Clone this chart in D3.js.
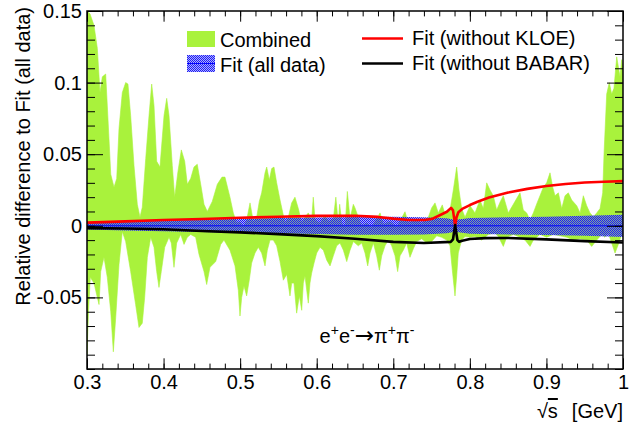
<!DOCTYPE html>
<html>
<head>
<meta charset="utf-8">
<script src="https://cdn.jsdelivr.net/npm/d3@7"></script>
<style>
  body { margin: 0; background: #fff; }
  svg { display: block; font-family: "Liberation Sans", Arial, Helvetica, sans-serif; }
</style>
</head>
<body>
<div id="viz"></div>
<script>
// tick values and labels
var xTicks = [0.3, 0.4, 0.5, 0.6, 0.7, 0.8, 0.9, 1.0],
    xTickLabels = ["0.3", "0.4", "0.5", "0.6", "0.7", "0.8", "0.9", "1"],
    yTicks = [-0.05, 0, 0.05, 0.1, 0.15],
    yTickLabels = ["-0.05", "0", "0.05", "0.1", "0.15"];

var legendLabels = ["Combined", "Fit (all data)", "Fit (without KLOE)", "Fit (without BABAR)"];

// Combined band - upper edge
var upperX = [0.300, 0.3039, 0.3091, 0.3135, 0.3170, 0.3200, 0.3244, 0.3287, 0.3310, 0.3353,
  0.3388, 0.3418, 0.3461, 0.3505, 0.3535, 0.3570, 0.3614, 0.3657, 0.3692, 0.3722,
  0.3767, 0.3810, 0.3845, 0.3875, 0.3910, 0.3953, 0.4006, 0.4041, 0.4071, 0.4114,
  0.4145, 0.4188, 0.4232, 0.4276, 0.4310, 0.4354, 0.4397, 0.4440, 0.4485, 0.4528,
  0.4571, 0.4636, 0.4702, 0.4763, 0.4802, 0.4867, 0.4911, 0.4955, 0.4998, 0.5041,
  0.5085, 0.5129, 0.5172, 0.5216, 0.5250, 0.5281, 0.5325, 0.5347, 0.5381, 0.5412,
  0.5442, 0.5477, 0.5521, 0.5586, 0.5629, 0.5673, 0.5716, 0.5760, 0.5804, 0.5847,
  0.5890, 0.5934, 0.5955, 0.5978, 0.6043, 0.6108, 0.6152, 0.6217, 0.6250, 0.6282,
  0.6300, 0.6327, 0.6370, 0.6400, 0.6435, 0.6478, 0.6500, 0.6543, 0.6588, 0.6653,
  0.6718, 0.6761, 0.6827, 0.6870, 0.6957, 0.7045, 0.7153, 0.7196, 0.7283, 0.7371,
  0.7458, 0.7501, 0.7545, 0.7588, 0.7640, 0.7675, 0.7741, 0.7784, 0.7828, 0.7858,
  0.7893, 0.7937, 0.8002, 0.8067, 0.8132, 0.8176, 0.8220, 0.8263, 0.8306, 0.8350,
  0.8394, 0.8437, 0.8502, 0.8568, 0.8611, 0.8655, 0.8698, 0.8742, 0.8786, 0.8829,
  0.8873, 0.8916, 0.8960, 0.9003, 0.9047, 0.9082, 0.9112, 0.9156, 0.9200, 0.9243,
  0.9286, 0.9330, 0.9396, 0.9439, 0.9482, 0.9526, 0.9569, 0.9613, 0.9657, 0.9700,
  0.9735, 0.9752, 0.9787, 0.9821, 0.9852, 0.9882, 0.9918, 0.9961, 0.9983, 1.0000];
var upperY = [0.150, 0.148, 0.140, 0.124, 0.093, 0.104, 0.106, 0.061, 0.036, 0.027,
  0.033, 0.068, 0.093, 0.100, 0.099, 0.077, 0.042, 0.015, 0.006, 0.013,
  0.047, 0.077, 0.099, 0.084, 0.045, 0.041, 0.077, 0.089, 0.077, 0.042,
  0.020, 0.038, 0.053, 0.045, 0.029, 0.033, 0.041, 0.043, 0.029, 0.015,
  0.010, 0.017, 0.029, 0.034, 0.034, 0.020, 0.009, 0.002, 0.003, -0.001,
  0.004, 0.016, 0.003, 0.006, 0.017, 0.023, 0.037, 0.041, 0.032, 0.040,
  0.041, 0.030, 0.018, 0.002, 0.006, 0.016, 0.020, 0.012, 0.002, 0.006,
  0.009, 0.004, 0.020, 0.004, 0.002, 0.007, 0.003, 0.005, 0.020, 0.001,
  0.015, 0.002, -0.001, 0.024, 0.005, 0.015, 0.0125, 0.006, 0.000, 0.002,
  -0.001, 0.003, 0.009, 0.001, 0.003, -0.001, 0.0098, 0.002, 0.004, 0.002,
  0.006, 0.0125, 0.016, 0.009, 0.0146, 0.008, 0.011, 0.025, 0.041, 0.025,
  0.012, 0.006, 0.014, 0.009, 0.018, 0.012, 0.030, 0.025, 0.021, 0.011,
  0.0165, 0.021, 0.009, 0.015, 0.019, 0.023, 0.011, 0.009, 0.004, 0.009,
  0.0153, 0.021, 0.027, 0.030, 0.037, 0.027, 0.021, 0.023, 0.012, 0.021,
  0.023, 0.018, 0.014, 0.009, 0.021, 0.014, 0.009, 0.0063, 0.009, 0.012,
  0.023, 0.050, 0.092, 0.100, 0.092, 0.096, 0.118, 0.104, 0.116, 0.110];

// Combined band - lower edge
var lowerX = [0.3000, 0.3020, 0.3043, 0.3091, 0.3135, 0.3157, 0.3179, 0.3222, 0.3265, 0.3310,
  0.3344, 0.3375, 0.3418, 0.3461, 0.3505, 0.3570, 0.3635, 0.3679, 0.3722, 0.3753,
  0.3788, 0.3832, 0.3875, 0.3910, 0.3940, 0.3970, 0.4015, 0.4071, 0.4101, 0.4136,
  0.4171, 0.4224, 0.4267, 0.4310, 0.4354, 0.4419, 0.4463, 0.4528, 0.4563, 0.4606,
  0.4681, 0.4746, 0.4789, 0.4867, 0.4933, 0.4976, 0.4998, 0.5020, 0.5050, 0.5085,
  0.5119, 0.5150, 0.5194, 0.5237, 0.5281, 0.5325, 0.5355, 0.5390, 0.5433, 0.5477,
  0.5521, 0.5564, 0.5608, 0.5651, 0.5673, 0.5703, 0.5738, 0.5773, 0.5804, 0.5825,
  0.5847, 0.5890, 0.5912, 0.5934, 0.5965, 0.6000, 0.6043, 0.6087, 0.6131, 0.6174,
  0.6217, 0.6261, 0.6304, 0.6348, 0.6392, 0.6435, 0.6478, 0.6543, 0.6588, 0.6631,
  0.6666, 0.6696, 0.6740, 0.6783, 0.6818, 0.6849, 0.6892, 0.6935, 0.6979, 0.7023,
  0.7057, 0.7088, 0.7131, 0.7175, 0.7218, 0.7262, 0.7305, 0.7371, 0.7436, 0.7501,
  0.7567, 0.7632, 0.7697, 0.7741, 0.7771, 0.7806, 0.7828, 0.7849, 0.7893, 0.7937,
  0.8002, 0.8067, 0.8154, 0.8241, 0.8328, 0.8372, 0.8437, 0.8481, 0.8568, 0.8655,
  0.8720, 0.8786, 0.8829, 0.8916, 0.9003, 0.9090, 0.9177, 0.9264, 0.9351, 0.9439,
  0.9526, 0.9591, 0.9657, 0.9722, 0.9765, 0.9808, 0.9852, 0.9896, 0.9939, 0.9983,
  1.0000];
var lowerY = [-0.090, -0.060, -0.036, -0.040, -0.050, -0.055, -0.032, -0.022, -0.036, -0.060,
  -0.088, -0.064, -0.027, -0.004, -0.011, -0.032, -0.055, -0.071, -0.068, -0.050,
  -0.022, -0.008, -0.015, -0.032, -0.043, -0.032, -0.015, -0.008, -0.012, -0.029,
  -0.012, -0.006, -0.013, -0.008, -0.006, -0.008, -0.020, -0.032, -0.041, -0.029,
  -0.025, -0.013, -0.010, -0.017, -0.028, -0.045, -0.063, -0.050, -0.042, -0.049,
  -0.038, -0.026, -0.019, -0.015, -0.019, -0.028, -0.017, -0.010, -0.010, -0.014,
  -0.025, -0.038, -0.034, -0.049, -0.040, -0.040, -0.061, -0.049, -0.059, -0.040,
  -0.035, -0.054, -0.040, -0.033, -0.026, -0.019, -0.015, -0.017, -0.024, -0.028,
  -0.021, -0.014, -0.012, -0.017, -0.025, -0.017, -0.011, -0.014, -0.012, -0.019,
  -0.028, -0.019, -0.012, -0.021, -0.031, -0.021, -0.014, -0.010, -0.014, -0.021,
  -0.032, -0.021, -0.017, -0.012, -0.022, -0.016, -0.011, -0.009, -0.012, -0.011,
  -0.007, -0.008, -0.010, -0.014, -0.031, -0.049, -0.035, -0.019, -0.010, -0.0075,
  -0.008, -0.0075, -0.010, -0.006, -0.005, -0.0075, -0.0144, -0.008, -0.006, -0.008,
  -0.010, -0.0144, -0.010, -0.006, -0.008, -0.006, -0.007, -0.008, -0.010, -0.009,
  -0.010, -0.0144, -0.010, -0.006, -0.008, -0.005, -0.012, -0.019, -0.013, -0.006,
  -0.008];

// Fit (all data) error band, centred on zero
var fitX = [0.30, 0.35, 0.40, 0.45, 0.50, 0.55, 0.60, 0.65, 0.70, 0.74, 0.77, 0.78, 0.79, 0.80, 0.85, 0.90, 0.95, 1.00];
var fitErr = [0.0025, 0.0032, 0.0038, 0.0044, 0.0049, 0.0054, 0.0058, 0.0062, 0.0063, 0.0060, 0.0052, 0.0042, 0.0048, 0.0055, 0.0060, 0.0064, 0.0070, 0.0078];

// Fit (without KLOE)
var kloeX = [0.30, 0.35, 0.40, 0.45, 0.50, 0.55, 0.60, 0.65, 0.68, 0.70, 0.72, 0.74, 0.75, 0.76, 0.77,
  0.7755, 0.778, 0.7795, 0.7808, 0.7825, 0.785, 0.79, 0.80, 0.81, 0.825, 0.85, 0.875, 0.90, 0.925, 0.95, 0.975, 1.00];
var kloeY = [0.0022, 0.0031, 0.0040, 0.0048, 0.0056, 0.0063, 0.0069, 0.0070, 0.0062, 0.0050, 0.0041, 0.0040, 0.0047, 0.0072, 0.0098,
  0.0125, 0.0108, 0.0050, 0.0000, 0.0058, 0.0095, 0.0118, 0.0145, 0.0168, 0.0197, 0.0232, 0.0258, 0.0278, 0.0292, 0.0302, 0.0308, 0.0312];

// Fit (without BABAR)
var babarX = [0.30, 0.35, 0.40, 0.45, 0.50, 0.55, 0.60, 0.65, 0.70, 0.74, 0.775, 0.778, 0.7795, 0.7808,
  0.782, 0.7838, 0.786, 0.79, 0.80, 0.82, 0.85, 0.90, 0.95, 1.00];
var babarY = [-0.0016, -0.0019, -0.0024, -0.0036, -0.0046, -0.0058, -0.0072, -0.0090, -0.0112, -0.0120, -0.0112, -0.0095, -0.0040, 0.0005,
  -0.0040, -0.0100, -0.0112, -0.0104, -0.0092, -0.0086, -0.0085, -0.0095, -0.0107, -0.0117];

var margin = {top: 11, right: 17, bottom: 57, left: 87},
    width = 640 - margin.left - margin.right,
    height = 426 - margin.top - margin.bottom;

var xScale = d3.scaleLinear().domain([0.3, 1.0]).range([0, width]);
var yScale = d3.scaleLinear().domain([-0.1, 0.15]).range([height, 0]);

var svg = d3.select("#viz").append("svg")
    .attr("width", 640)
    .attr("height", 426);

var defs = svg.append("defs");
defs.append("clipPath").attr("id", "plotClip")
  .append("rect").attr("width", width).attr("height", height);

// checker hatch like ROOT fill style
var pat = defs.append("pattern")
    .attr("id", "checker")
    .attr("width", 2).attr("height", 2)
    .attr("patternUnits", "userSpaceOnUse");
pat.append("rect").attr("width", 2).attr("height", 2).attr("fill", "rgba(90,90,255,0.5)");
pat.append("rect").attr("x", 0).attr("y", 0).attr("width", 1).attr("height", 1).attr("fill", "#1e1ef5");
pat.append("rect").attr("x", 1).attr("y", 1).attr("width", 1).attr("height", 1).attr("fill", "#1e1ef5");

var chart = svg.append("g")
    .attr("transform", "translate(" + margin.left + "," + margin.top + ")");

var plot = chart.append("g").attr("clip-path", "url(#plotClip)");

// combined band: upper edge left to right, then lower edge back
var bandPts = upperX.map(function(d, i) { return [d, upperY[i]]; })
  .concat(lowerX.map(function(d, i) { return [d, lowerY[i]]; }).reverse());

var lineFunc = d3.line()
  .x(function(d) { return xScale(d[0]); })
  .y(function(d) { return yScale(d[1]); });

plot.append("path")
  .attr("d", lineFunc(bandPts) + "Z")
  .attr("fill", "#a9f23c")
  .attr("stroke", "#a9f23c")
  .attr("stroke-width", 0.6);

// fit error band
var fitArea = d3.area()
  .x(function(d, i) { return xScale(fitX[i]); })
  .y0(function(d) { return yScale(-d); })
  .y1(function(d) { return yScale(d); });

plot.append("path")
  .attr("d", fitArea(fitErr))
  .attr("fill", "url(#checker)");

plot.append("path")
  .attr("d", lineFunc(fitX.map(function(d) { return [d, 0]; })))
  .attr("stroke", "#0000ff")
  .attr("stroke-width", 1)
  .attr("fill", "none");

plot.append("path")
  .attr("d", lineFunc(kloeX.map(function(d, i) { return [d, kloeY[i]]; })))
  .attr("stroke", "#ff0000")
  .attr("stroke-width", 2.6)
  .attr("stroke-linejoin", "round")
  .attr("fill", "none");

plot.append("path")
  .attr("d", lineFunc(babarX.map(function(d, i) { return [d, babarY[i]]; })))
  .attr("stroke", "#000000")
  .attr("stroke-width", 2.6)
  .attr("stroke-linejoin", "round")
  .attr("fill", "none");

// axes, ROOT style: ticks inside on all four sides
var xMinor = d3.range(0.3, 1.0001, 0.02),
    yMinor = d3.range(-0.1, 0.1501, 0.01);

function styleAxis(g) {
  g.select(".domain").remove();
  g.attr("font-family", "'Liberation Sans', Arial, Helvetica, sans-serif")
   .attr("font-size", 20);
  g.selectAll("text").attr("fill", "#000");
}

chart.append("g")
  .attr("transform", "translate(0," + height + ")")
  .call(d3.axisBottom(xScale).tickValues(xTicks)
    .tickFormat(function(d, i) { return xTickLabels[i]; })
    .tickSizeInner(-10.7).tickSizeOuter(0).tickPadding(6))
  .call(styleAxis);
chart.append("g")
  .attr("transform", "translate(0," + height + ")")
  .call(d3.axisBottom(xScale).tickValues(xMinor).tickFormat("")
    .tickSizeInner(-5.4).tickSizeOuter(0))
  .call(styleAxis);
chart.append("g")
  .call(d3.axisTop(xScale).tickValues(xTicks).tickFormat("")
    .tickSizeInner(-10.7).tickSizeOuter(0))
  .call(styleAxis);
chart.append("g")
  .call(d3.axisTop(xScale).tickValues(xMinor).tickFormat("")
    .tickSizeInner(-5.4).tickSizeOuter(0))
  .call(styleAxis);

chart.append("g")
  .call(d3.axisLeft(yScale).tickValues(yTicks)
    .tickFormat(function(d, i) { return yTickLabels[i]; })
    .tickSizeInner(-16).tickSizeOuter(0).tickPadding(5))
  .call(styleAxis);
chart.append("g")
  .call(d3.axisLeft(yScale).tickValues(yMinor).tickFormat("")
    .tickSizeInner(-8).tickSizeOuter(0))
  .call(styleAxis);
chart.append("g")
  .attr("transform", "translate(" + width + ",0)")
  .call(d3.axisRight(yScale).tickValues(yTicks).tickFormat("")
    .tickSizeInner(-16).tickSizeOuter(0))
  .call(styleAxis);
chart.append("g")
  .attr("transform", "translate(" + width + ",0)")
  .call(d3.axisRight(yScale).tickValues(yMinor).tickFormat("")
    .tickSizeInner(-8).tickSizeOuter(0))
  .call(styleAxis);

chart.append("rect")
  .attr("width", width).attr("height", height)
  .attr("fill", "none")
  .attr("stroke", "#000")
  .attr("stroke-width", 1.5);

// axis titles
svg.append("text")
  .attr("transform", "translate(30,7) rotate(-90)")
  .attr("text-anchor", "end")
  .attr("font-size", 20)
  .text("Relative difference to Fit (all data)");

var xTitle = svg.append("text")
  .attr("x", margin.left + width)
  .attr("y", 418)
  .attr("text-anchor", "end")
  .attr("font-size", 20);
xTitle.append("tspan").text("\u221A");
xTitle.append("tspan").attr("text-decoration", "overline").text("s");
xTitle.append("tspan").attr("dx", 14).text("[GeV]");

// process label
var proc = svg.append("text")
  .attr("x", 367)
  .attr("y", 343)
  .attr("text-anchor", "middle")
  .attr("font-size", 20);
proc.append("tspan").text("e");
proc.append("tspan").attr("font-size", 14).attr("dy", -8).text("+");
proc.append("tspan").attr("dy", 8).text("e");
proc.append("tspan").attr("font-size", 14).attr("dy", -8).text("-");
proc.append("tspan").attr("dy", 8).attr("font-family", "'DejaVu Sans'").attr("font-size", 23).text("\u2192");
proc.append("tspan").text("\u03C0");
proc.append("tspan").attr("font-size", 14).attr("dy", -8).text("+");
proc.append("tspan").attr("dy", 8).text("\u03C0");
proc.append("tspan").attr("font-size", 14).attr("dy", -8).text("-");

// legend
var legend = svg.append("g").attr("font-size", 20);
legend.append("rect").attr("x", 187).attr("y", 31).attr("width", 28).attr("height", 16).attr("fill", "#a9f23c");
legend.append("rect").attr("x", 187).attr("y", 55).attr("width", 28).attr("height", 17).attr("fill", "url(#checker)");
legend.append("line").attr("x1", 187).attr("x2", 215).attr("y1", 63.5).attr("y2", 63.5)
  .attr("stroke", "#0000ff").attr("stroke-width", 1);
legend.append("line").attr("x1", 362).attr("x2", 403).attr("y1", 38.5).attr("y2", 38.5)
  .attr("stroke", "#ff0000").attr("stroke-width", 2.6);
legend.append("line").attr("x1", 362).attr("x2", 403).attr("y1", 63.5).attr("y2", 63.5)
  .attr("stroke", "#000").attr("stroke-width", 2.6);
legend.append("text").attr("x", 220).attr("y", 46.5).text(legendLabels[0]);
legend.append("text").attr("x", 220).attr("y", 71.5).text(legendLabels[1]);
legend.append("text").attr("x", 412).attr("y", 45).text(legendLabels[2]);
legend.append("text").attr("x", 412).attr("y", 70).text(legendLabels[3]);
</script>
</body>
</html>
